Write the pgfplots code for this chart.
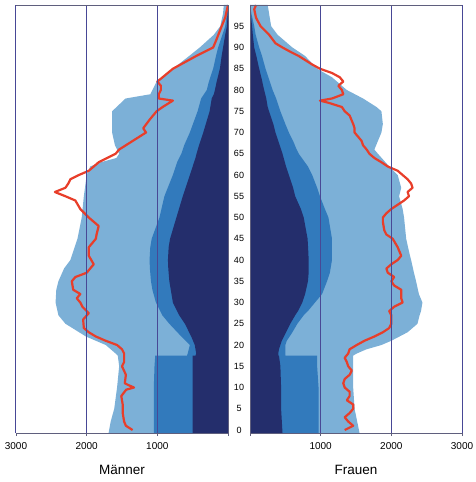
\documentclass[border=0pt]{standalone}
\usepackage{pgfplots}
\pgfplotsset{compat=1.18}
\usepackage{pgfplotstable}
\usepackage{fontspec}
\setmainfont{Liberation Sans}
\definecolor{lightb}{RGB}{124,176,215}
\definecolor{midb}{RGB}{50,122,188}
\definecolor{navyb}{RGB}{36,46,108}
\definecolor{redl}{RGB}{232,62,42}
\definecolor{gridb}{RGB}{72,72,150}
\definecolor{axisg}{RGB}{95,95,125}

% Maenner: age, light, mid, navy
\pgfplotstableread{
age light mid navy
-0.7 0 0 0
-0.7 1690 1050 500
2 1660 1050 500
5 1610 1050 500
10 1570 1050 500
15 1540 1040 500
17.5 1560 1030 500
17.5 1560 580 460
18 1590 570 450
20 1730 540 470
22 2010 660 520
25 2300 830 610
27 2400 930 690
30 2440 1020 780
33 2430 1070 810
35 2400 1090 830
38 2320 1105 845
40 2230 1110 850
43 2170 1100 840
45 2130 1080 820
50 2070 970 730
55 2040 900 640
60 2000 780 540
62 1950 740 500
63 1800 720 480
64 1580 690 460
65 1540 660 445
67 1600 620 410
70 1640 540 350
75 1640 430 260
78 1450 380 230
79 1100 340 200
80 1070 300 185
82 1010 270 160
85 780 210 115
88 550 170 90
90 400 140 70
93 200 80 40
95 110 40 15
98 70 15 5
100 60 0 0
100 0 0 0
}\men

% Frauen: age, light, mid, navy
\pgfplotstableread{
age light mid navy
-0.7 0 0 0
-0.7 1550 970 460
5 1480 970 440
10 1460 970 440
15 1460 950 430
17.5 1460 950 410
17.5 1460 500 400
18 1510 500 400
19 1650 500 410
20 1860 500 430
21 2000 520 450
23 2230 600 510
25 2370 670 570
27 2400 760 640
28 2420 820 680
30 2440 920 740
32 2390 1020 780
35 2350 1090 820
37 2320 1130 830
40 2280 1160 830
42 2250 1160 825
45 2210 1160 815
50 2180 1110 760
52 2160 1060 720
55 2110 990 640
57 2140 950 610
60 2090 880 550
62 1970 820 510
65 1810 690 460
66 1760 660 440
68 1810 610 400
70 1860 550 360
72 1880 500 330
75 1860 430 270
76 1790 410 250
78 1600 370 230
80 1370 320 200
83 1160 260 160
85 950 220 130
88 780 170 90
90 600 130 60
93 390 80 40
95 300 60 30
98 270 20 10
100 250 0 0
100 0 0 0
}\women

% red line Maenner
\pgfplotstableread{
age v
0 1350
1 1445
2 1470
4 1490
6 1490
8 1510
9.5 1440
10 1330
10.5 1400
11 1460
13 1445
15 1500
16 1470
18 1470
19 1500
20 1570
21 1730
22 1870
23 1970
24 2040
26 2050
27.5 1970
29 2060
30 2090
31 2140
32 2090
33 2190
35 2210
36 2160
37 2000
39 1900
41 1970
43 1970
45 1870
46 1860
48 1830
50 1970
52 2090
54 2160
55 2300
56 2450
57 2300
58 2260
59 2230
60 2110
61 1970
63 1830
65 1590
66 1540
68 1350
70 1160
71 1200
73 1110
75 1010
76 925
77.5 780
78 980
79 980
80 950
81 950
82 1000
83 925
85 780
88 450
90 210
92 160
95 90
97 40
100 0
}\menred

% red line Frauen
\pgfplotstableread{
age v
0 1340
1 1460
2 1390
3 1340
4 1410
5 1460
6 1460
7 1370
8 1410
9 1410
10 1340
11 1320
12 1340
13 1410
14 1440
15 1390
16 1370
17 1340
18 1390
19 1410
20 1510
21 1620
22 1760
23 1880
24 1970
25 2000
27 2000
28 1970
29 2040
30 2160
31 2140
33 2140
34 2040
35 2000
36 2040
37 1950
38 1930
39 2000
40 2090
41 2140
43 2090
45 2020
46 1930
47 1900
49 1880
50 1880
51 1930
52 2000
53 2090
54 2180
55 2250
56 2230
57 2300
58 2280
59 2230
60 2160
61 2090
62 1950
63 1860
64 1760
65 1690
66 1650
67 1600
68 1580
69 1530
70 1480
71 1480
72 1460
74 1410
75 1340
76 1300
77 1110
77.5 990
78 1160
79 1320
80 1300
81 1250
82 1320
83 1270
84 1160
85 990
86 880
88 690
89 570
90 460
91 360
93 270
95 150
97 85
99 60
100 85
}\womenred

\pgfplotsset{
  pyr/.style={
    scale only axis, width=212pt, height=428pt,
    xmin=0, xmax=3000, ymin=-0.7, ymax=100,
    axis on top,
    separate axis lines,
    x axis line style={draw=axisg, line width=0.8pt},
    y axis line style={draw=none},
    xtick={1000,2000,3000},
    extra x ticks={0}, extra x tick labels={},
    extra x tick style={grid style={draw=axisg, line width=0.8pt}},
    xmajorgrids, grid style={draw=gridb, line width=1pt},
    xtick pos=bottom, tick align=outside,
    major tick length=3pt,
    tick style={draw=axisg, line width=0.8pt},
    /pgf/number format/1000 sep={},
    /pgf/number format/assume math mode=true,
    xticklabel style={font=\fontsize{10}{12}\selectfont, yshift=-3pt},
    xlabel style={font=\fontsize{13.5}{15}\selectfont, yshift=-3pt},
  }
}

\begin{document}
\begin{tikzpicture}
\path[use as bounding box] (0pt,0pt) rectangle (476pt,482pt);
% Maenner
\begin{axis}[pyr, at={(16pt,49pt)}, anchor=south west, x dir=reverse,
  ytick=\empty, xlabel={Männer}]
  \addplot[fill=lightb, draw=none] table[x=light, y=age] {\men};
  \addplot[fill=midb, draw=none] table[x=mid, y=age] {\men};
  \addplot[fill=navyb, draw=none] table[x=navy, y=age] {\men};
  \addplot[redl, line width=2.2pt, line join=round] table[x=v, y=age] {\menred};
\end{axis}
% Frauen
\begin{axis}[pyr, at={(250pt,49pt)}, anchor=south west,
  ytick={0,5,...,95}, ytick pos=left, yticklabel pos=left,
  ytick style={draw=none},
  yticklabel style={anchor=center, xshift=-8pt, font=\fontsize{9}{10}\selectfont},
  xlabel={Frauen}]
  \addplot[fill=lightb, draw=none] table[x=light, y=age] {\women};
  \addplot[fill=midb, draw=none] table[x=mid, y=age] {\women};
  \addplot[fill=navyb, draw=none] table[x=navy, y=age] {\women};
  \addplot[redl, line width=2.2pt, line join=round] table[x=v, y=age] {\womenred};
\end{axis}
\end{tikzpicture}
\end{document}
